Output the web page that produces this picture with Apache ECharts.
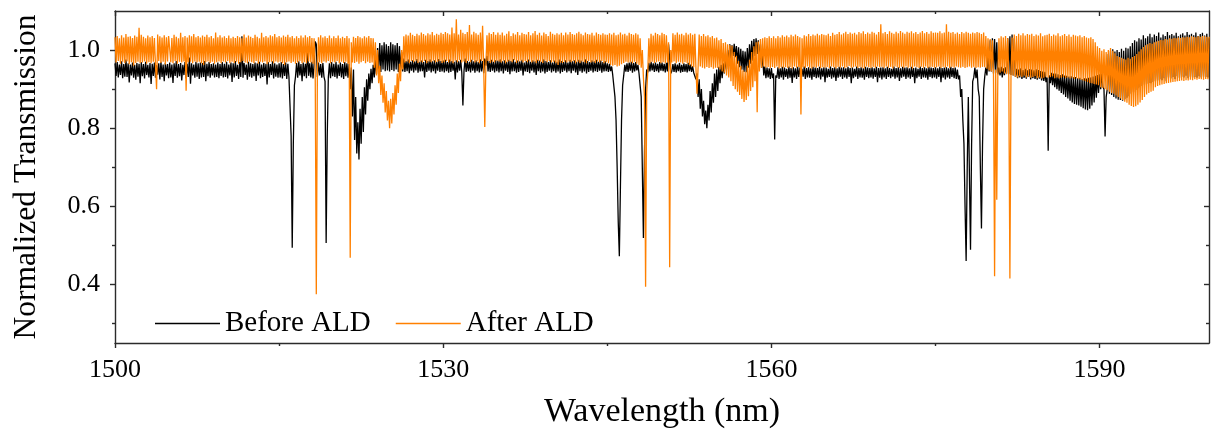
<!DOCTYPE html>
<html>
<head>
<meta charset="utf-8">
<script src="https://cdn.jsdelivr.net/npm/echarts@6/dist/echarts.min.js"></script>
<style>
  html, body { margin: 0; padding: 0; background: #fff; }
  #chart { width: 1214px; height: 430px; }
</style>
</head>
<body>
<div id="chart"></div>
<script>
// Wavelength grid of the traces (nm): 1500.0, 1500.1, ... 1600.0
const START_NM = 1500;
const STEP_NM = 0.1;

// Normalized transmission x1000, one value per grid point; each line = 2.5 nm
const beforeALD = [
  966,934,969,930,963,936,971,928,964,932,976,931,966,917,963,935,968,929,962,924,967,932,965,915,969,
  933,964,927,970,936,962,930,967,913,965,934,968,929,961,937,966,925,970,931,963,920,967,935,964,928,
  968,930,963,916,966,934,972,929,964,933,967,922,962,936,969,927,965,931,981,914,966,935,963,929,970,
  932,966,926,968,930,967,931,972,920,965,933,969,929,964,935,966,930,963,931,968,928,964,934,969,930,
  965,931,970,927,963,935,968,918,966,930,972,934,962,926,969,931,1035,929,967,936,963,924,970,932,966,
  929,964,933,968,921,966,935,970,928,963,931,967,934,965,912,969,930,964,936,971,927,966,932,963,929,
  966,930,969,927,964,934,968,926,965,931,930,780,494,760,910,932,967,929,971,935,964,920,968,933,965,
  928,1010,934,966,930,970,927,963,1022,1015,931,968,935,964,929,967,932,920,506,780,930,966,928,969,933,
  965,931,970,927,963,934,968,930,964,926,969,933,966,929,964,900,955,830,950,770,880,735,815,720,850,
  760,880,790,905,835,925,870,940,900,952,915,962,930,975,938,1005,948,1018,944,1012,950,1020,946,1015,948,
  1010,945,1020,949,1015,946,1012,950,1018,944,1010,947,995,945,978,944,972,946,976,941,970,947,974,943,971,
  948,977,942,970,945,973,946,969,930,975,944,972,947,976,943,971,946,974,940,970,947,977,944,972,945,
  973,943,975,946,969,942,976,944,972,947,970,925,974,943,971,947,975,942,858,946,978,944,972,946,970,
  943,975,947,971,942,974,946,969,943,976,945,972,941,978,960,985,945,972,944,975,947,970,943,974,946,
  973,943,976,946,971,940,974,947,970,944,975,938,972,945,977,946,970,942,973,944,971,947,975,935,968,
  945,972,944,976,941,970,947,974,943,971,936,975,946,973,942,970,945,976,940,972,944,969,947,974,943,
  968,946,973,942,970,945,976,940,972,944,969,947,974,943,968,946,975,941,971,947,974,943,970,936,975,
  946,973,942,970,945,976,940,972,944,969,947,974,943,971,946,975,944,970,947,973,942,969,945,972,946,
  966,944,965,946,958,935,930,880,820,700,560,472,650,820,910,935,962,945,966,944,968,947,970,942,967,
  945,969,948,962,940,945,880,700,519,740,900,950,943,967,945,970,948,966,944,968,946,965,943,969,947,
  968,946,965,943,967,945,1015,1020,940,946,964,944,966,943,963,946,967,942,962,944,966,945,964,943,967,
  946,963,944,958,942,945,925,940,880,925,850,900,830,870,810,845,800,860,820,895,840,915,865,940,880,
  950,895,957,915,962,928,966,940,980,950,1000,968,1015,978,1012,985,1016,982,1010,965,1007,956,1003,950,998,
  944,996,943,1005,955,1015,965,1024,973,1028,985,1030,990,1025,975,1015,955,990,935,958,928,955,930,953,926,
  954,928,940,771,935,929,956,926,953,930,957,924,955,931,952,927,958,929,954,916,956,930,953,926,957,
  931,955,928,952,932,958,926,954,930,956,929,953,924,957,931,955,928,954,930,957,925,953,932,956,918,
  955,929,952,931,958,927,954,930,956,921,953,929,957,932,955,926,956,930,953,927,957,931,954,915,955,
  928,952,932,958,926,954,930,956,929,953,924,957,931,955,928,954,930,956,927,953,931,957,918,954,929,
  955,925,956,930,953,926,957,931,954,928,952,932,958,927,954,930,956,921,953,929,957,932,955,926,956,
  930,953,927,957,931,954,915,955,928,952,932,958,926,954,930,956,929,953,924,957,931,955,928,954,930,
  956,927,953,931,957,918,954,929,955,925,956,930,953,927,957,931,954,928,955,926,950,925,935,880,900,
  820,760,600,460,700,880,680,489,760,920,930,955,928,950,900,880,700,543,760,900,932,955,935,990,945,
  1025,945,1030,940,1028,942,1020,938,955,935,957,930,953,936,956,940,1030,938,1035,936,1040,935,1030,932,952,
  928,950,930,953,926,949,929,952,927,948,931,951,925,950,928,948,926,951,924,949,927,946,922,945,921,
  944,918,930,742,935,915,942,910,940,905,940,900,938,896,936,890,938,886,935,880,934,876,932,870,933,
  866,930,862,931,860,928,858,929,855,926,851,928,848,927,846,929,850,930,858,932,866,934,878,936,890,
  938,900,940,906,900,779,880,900,990,888,998,885,1002,880,996,876,1000,873,995,872,1003,870,998,874,1006,
  878,1004,882,1010,888,1018,892,1025,898,1022,902,1030,905,1027,908,1038,912,1030,914,1035,916,1042,915,1033,918,
  1040,920,1036,922,1045,925,1032,923,1040,928,1036,920,1046,930,1038,927,1041,931,1037,926,1044,933,1035,929,1040,
  932,1043,930,1037,934,1046,928,1039,932,1042,930,1038,931,1045,929,1036,933,1041,930,1044,932,1037,931,1042,930,
  1030
];

const afterALD = [
  1033,968,1036,972,1030,965,1038,970,1032,966,1041,971,1034,964,1035,969,1031,960,1037,967,1034,970,1057,967,1039,
  968,1034,971,1030,965,1037,969,1033,966,1036,970,1031,964,900,1040,972,1035,967,1032,970,1038,963,1033,971,1036,
  1035,969,1031,966,1039,972,1034,965,1030,970,1044,968,1033,971,1036,896,1032,969,1038,970,1035,966,1041,971,1033,
  968,1036,970,1032,966,1037,962,1034,969,1039,971,1033,967,1036,970,1030,965,1045,969,1033,971,1038,966,1032,971,
  1035,968,1031,972,1037,966,1030,970,1034,967,1031,970,1036,965,1033,969,1030,972,1040,968,1032,966,1037,971,1034,
  969,1031,966,1039,972,1034,965,1030,970,1044,968,1033,971,1036,964,1032,969,1038,970,1035,966,1041,971,1033,968,
  1036,970,1032,966,1037,962,1034,969,1039,971,1033,967,1036,970,1030,965,1035,968,1031,972,1037,966,1032,969,1038,
  966,1033,971,1036,968,1031,965,1030,950,375,945,1033,969,1038,966,1032,971,1035,968,1031,972,1037,966,1030,970,
  1035,968,1031,972,1037,966,1030,970,1034,967,1031,970,1036,965,1030,468,1020,968,1034,967,1031,970,1036,965,1033,
  969,1030,972,1035,966,1032,970,1036,967,1031,968,1030,955,1020,935,1000,915,960,885,935,865,915,840,895,820,
  870,800,875,812,890,835,910,860,940,890,965,920,1000,950,1035,968,1040,971,1037,966,1044,972,1039,969,1036,
  973,1042,967,1038,970,1045,968,1041,972,1037,966,1043,971,1040,969,1046,973,1038,968,1042,970,1039,972,1044,967,
  1041,969,1046,972,1043,968,1040,971,1058,966,1043,973,1079,969,1040,974,1052,968,1044,971,1041,967,1046,972,1064,
  969,1040,974,1047,968,1043,971,1039,966,1045,972,1062,960,803,960,1038,972,1044,967,1041,970,1046,968,1039,973,
  1045,971,1039,968,1045,973,1037,966,1042,970,1048,972,1036,969,1043,974,1040,967,1046,971,1038,973,1044,968,1041,
  972,1040,969,1046,973,1038,968,1043,971,1049,966,1039,972,1044,970,1037,967,1045,973,1041,969,1036,972,1047,968,
  1042,970,1039,966,1043,962,1040,968,1044,967,1038,970,1045,968,1040,971,1046,969,1041,972,1039,966,1043,970,1047,
  967,1042,971,1038,969,1045,966,1041,972,1040,968,1044,970,1037,967,1045,971,1041,968,1039,972,1043,966,1040,969,
  1039,966,1043,962,1040,960,1044,962,1038,958,1040,960,1045,964,1040,967,1042,970,1037,968,1044,969,1041,966,1039,
  970,1043,965,1040,962,1030,955,1000,930,880,394,890,945,1030,966,1042,970,1037,967,1044,969,1041,971,1038,966,
  1044,969,1041,966,1038,968,1020,444,1000,968,1043,971,1039,966,1045,970,1040,968,1042,965,1038,969,1044,966,1040,
  962,1043,958,1039,956,1042,955,888,956,1040,958,1036,955,1041,953,1035,957,1038,954,1033,956,1036,952,1030,955,
  1032,954,1025,950,1028,945,1018,942,1020,935,1015,930,1013,920,1011,908,995,900,985,893,972,885,960,875,948,
  867,945,872,960,882,975,895,995,905,1010,920,1020,841,1022,945,1028,955,1030,958,1033,955,1031,957,1035,954,
  1031,957,1035,954,1030,958,1036,953,1032,956,1038,955,1034,957,1037,954,1033,956,1039,953,1035,958,1040,955,1036,
  957,1033,835,1030,956,1038,954,1035,958,1041,955,1036,953,1040,957,1037,955,1042,958,1038,954,1041,956,1039,955,
  1038,957,1042,954,1036,958,1044,956,1039,953,1041,957,1046,955,1040,958,1043,954,1047,956,1041,959,1045,955,1042,
  956,1044,958,1040,954,1046,957,1043,955,1048,953,1041,958,1045,956,1042,954,1047,957,1044,955,1040,958,1046,956,
  1066,957,1043,954,1046,958,1041,955,1048,957,1044,953,1042,958,1047,956,1043,954,1049,957,1045,955,1042,958,1047,
  955,1044,957,1048,953,1043,958,1046,956,1041,954,1045,957,1049,955,1043,958,1046,954,1042,956,1048,957,1044,955,
  1045,956,1044,958,1048,954,1043,957,1045,955,1066,958,1047,954,1044,957,1046,955,1042,958,1045,956,1041,955,1046,
  957,1043,954,1047,956,1044,958,1042,955,1045,957,1043,954,1046,956,1044,955,1041,957,1045,956,1036,952,1030,948,
  1028,945,1025,940,421,950,617,945,1030,942,1035,945,1032,940,1036,938,1030,930,415,935,1032,935,1040,932,1036,
  930,1042,933,1038,931,1043,934,1037,930,1041,932,1039,929,1042,931,1036,933,1040,928,1037,930,1043,927,1035,929,
  1038,932,1039,929,1042,931,1036,933,1040,928,1037,930,1043,927,1035,929,1038,931,1041,928,1036,930,1040,927,1034,
  929,1039,926,1037,928,1035,925,1038,924,1033,922,1036,920,1032,918,1030,916,1033,915,1028,913,1020,912,1010,910,
  1005,905,998,903,1002,900,995,897,1000,893,1005,890,998,888,992,884,985,880,982,876,980,872,978,868,976,
  865,980,860,978,857,982,854,985,856,990,860,996,866,1002,872,1008,880,1012,886,1015,890,1018,893,1016,896,
  1020,905,1022,908,1024,910,1026,912,1025,913,1028,915,1027,916,1030,917,1029,918,1031,919,1030,920,1032,921,1031,
  922,1033,921,1032,923,1034,922,1033,924,1035,923,1034,925,1033,924,1035,926,1034,925,1036,924,1035,926,1034,925,
  1034
];

// Axis ticks / labels
const xMajorTicks = [1500, 1530, 1560, 1590];
const xMinorTicks = [1515, 1545, 1575];
const yMajorTicks = [0.4, 0.6, 0.8, 1.0];
const yMinorTicks = [0.3, 0.5, 0.7, 0.9];

const seriesNames = ['Before ALD', 'After ALD'];

const toPoints = arr => arr.map((v, i) => [START_NM + i * STEP_NM, v / 1000]);

const FONT = 'Liberation Serif';
const AXIS_COLOR = '#2b2b2b';
const lineStyleAxis = { color: AXIS_COLOR, width: 1.4 };

function xAx(position, ticks, len, inside, showLine, showLabel, extra) {
  return Object.assign({
    type: 'value', position: position, min: 1500, max: 1600,
    axisLine: { show: showLine, onZero: false, lineStyle: lineStyleAxis },
    axisTick: { show: true, customValues: ticks, length: len, inside: inside, lineStyle: lineStyleAxis },
    axisLabel: { show: showLabel },
    splitLine: { show: false }, minorTick: { show: false }
  }, extra || {});
}
function yAx(position, ticks, len, inside, showLine, showLabel, extra) {
  return Object.assign({
    type: 'value', position: position, min: 0.25, max: 1.1,
    axisLine: { show: showLine, onZero: false, lineStyle: lineStyleAxis },
    axisTick: { show: true, customValues: ticks, length: len, inside: inside, lineStyle: lineStyleAxis },
    axisLabel: { show: showLabel },
    splitLine: { show: false }, minorTick: { show: false }
  }, extra || {});
}

const chart = echarts.init(document.getElementById('chart'), null, { renderer: 'canvas' });
chart.setOption({
  animation: false,
  backgroundColor: '#ffffff',
  textStyle: { fontFamily: FONT, color: '#000' },
  grid: { left: 115, right: 5, top: 11, bottom: 87, outerBoundsMode: 'none', containLabel: false },
  legend: {
    data: seriesNames,
    left: 155, top: 309, padding: 0,
    icon: 'rect', itemWidth: 65, itemHeight: 1.6, itemGap: 25,
    textStyle: { fontFamily: FONT, fontSize: 29, color: '#000' }
  },
  xAxis: [
    xAx('bottom', xMajorTicks, 5, false, true, true, {
      axisLabel: { show: true, customValues: xMajorTicks, margin: 14, fontFamily: FONT, fontSize: 26, color: '#000',
                   formatter: v => String(Math.round(v)) },
      name: 'Wavelength (nm)', nameLocation: 'middle', nameGap: 52,
      nameTextStyle: { fontFamily: FONT, fontSize: 34, color: '#000' }
    }),
    xAx('bottom', xMinorTicks, 3, false, false, false),
    xAx('top', xMajorTicks, 5, true, true, false),
    xAx('top', xMinorTicks, 3, true, false, false)
  ],
  yAxis: [
    yAx('left', yMajorTicks, 5, false, true, true, {
      axisLabel: { show: true, customValues: yMajorTicks, margin: 15, fontFamily: FONT, fontSize: 26, color: '#000',
                   formatter: v => Number(v).toFixed(1) },
      name: 'Normalized Transmission', nameLocation: 'middle', nameGap: 72,
      nameTextStyle: { fontFamily: FONT, fontSize: 31.5, color: '#000' }
    }),
    yAx('left', yMinorTicks, 3, false, false, false),
    yAx('right', yMajorTicks, 5, true, true, false),
    yAx('right', yMinorTicks, 3, true, false, false)
  ],
  series: [
    {
      name: seriesNames[0], type: 'line', xAxisIndex: 0, yAxisIndex: 0,
      data: toPoints(beforeALD), showSymbol: false, symbol: 'none',
      lineStyle: { color: '#000000', width: 1.3 }, itemStyle: { color: '#000000' },
      emphasis: { disabled: true }, z: 2
    },
    {
      name: seriesNames[1], type: 'line', xAxisIndex: 0, yAxisIndex: 0,
      data: toPoints(afterALD), showSymbol: false, symbol: 'none',
      lineStyle: { color: '#ff8000', width: 1.3 }, itemStyle: { color: '#ff8000' },
      emphasis: { disabled: true }, z: 3
    }
  ]
});
</script>
</body>
</html>
